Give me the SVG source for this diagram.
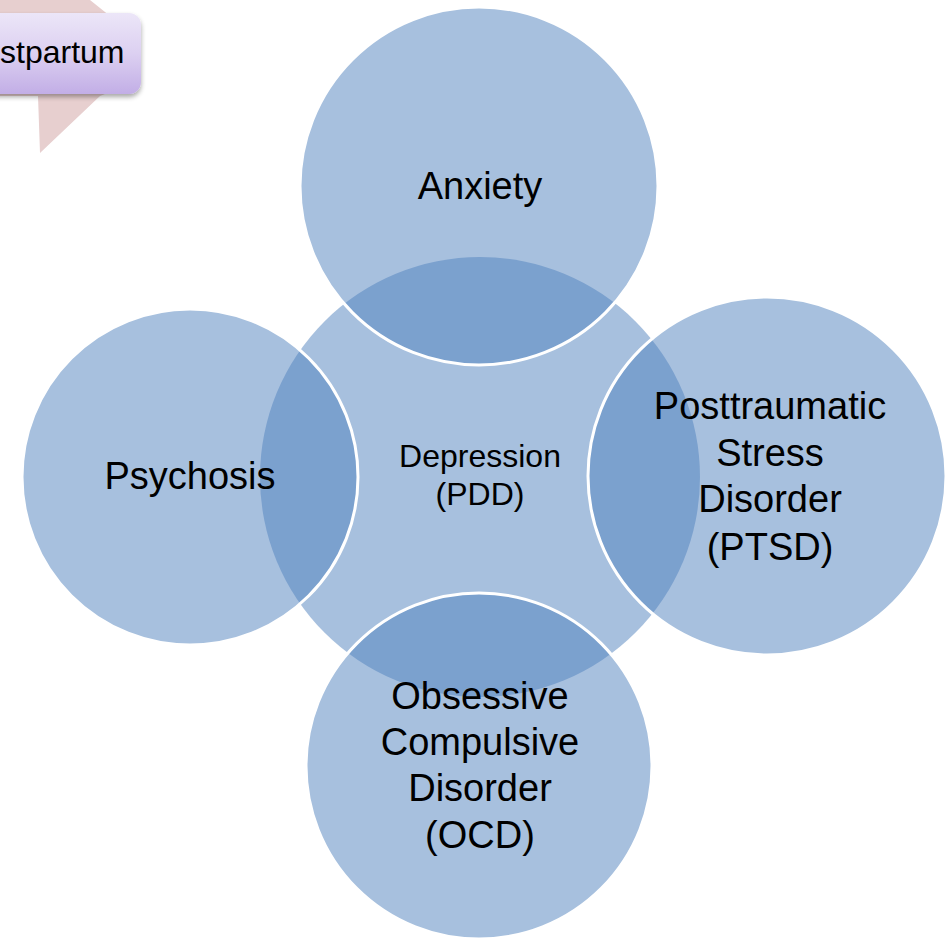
<svg xmlns="http://www.w3.org/2000/svg" width="945" height="939" viewBox="0 0 945 939">
  <defs>
    <linearGradient id="tagFill" x1="0" y1="0" x2="0" y2="1">
      <stop offset="0" stop-color="#ECE6F8"/>
      <stop offset="0.5" stop-color="#DCD0F1"/>
      <stop offset="1" stop-color="#C2AEE6"/>
    </linearGradient>
    <filter id="tagShadow" x="-20%" y="-20%" width="140%" height="160%">
      <feGaussianBlur in="SourceAlpha" stdDeviation="2.5"/>
      <feOffset dx="0" dy="3" result="b"/>
      <feComponentTransfer><feFuncA type="linear" slope="0.35"/></feComponentTransfer>
      <feMerge><feMergeNode/><feMergeNode in="SourceGraphic"/></feMerge>
    </filter>
  </defs>
  <style>
    .hub { fill: #4F81BD; fill-opacity: 0.5; }
    .ring { fill: #4F81BD; fill-opacity: 0.5; stroke: #FFFFFF; stroke-width: 3; }
    .lbl { font-family: "Liberation Sans", Arial, sans-serif; font-size: 38px; fill: #000000; text-anchor: middle; }
    .hubLbl { font-family: "Liberation Sans", Arial, sans-serif; font-size: 32px; fill: #000000; text-anchor: middle; }
    .tagLbl { font-family: "Liberation Sans", Arial, sans-serif; font-size: 32px; fill: #000000; }
  </style>

  <!-- callout tag in the corner -->
  <g id="callout">
    <path d="M -5 0 H 90 L 110 16 V 92 L 100 96 L 40 153 L 38 96 H -5 Z" fill="#E7CFCF"/>
    <rect x="-30" y="13" width="171" height="81" rx="12" fill="url(#tagFill)" filter="url(#tagShadow)"/>
    <text class="tagLbl" x="0" y="63">stpartum</text>
  </g>

  <!-- central circle -->
  <g id="depression">
    <circle class="hub" cx="480" cy="477" r="220"/>
  </g>

  <!-- outer circles -->
  <g id="anxiety">
    <circle class="ring" cx="479" cy="186" r="179"/>
    <text class="lbl" x="480" y="199">Anxiety</text>
  </g>
  <g id="psychosis">
    <circle class="ring" cx="190" cy="477" r="168"/>
    <text class="lbl" x="190" y="489">Psychosis</text>
  </g>
  <g id="ptsd">
    <circle class="ring" cx="767" cy="476" r="179"/>
    <text class="lbl" x="770" y="419">Posttraumatic</text>
    <text class="lbl" x="770" y="466">Stress</text>
    <text class="lbl" x="770" y="512">Disorder</text>
    <text class="lbl" x="770" y="560">(PTSD)</text>
  </g>
  <g id="ocd">
    <circle class="ring" cx="479" cy="766" r="173"/>
    <text class="lbl" x="480" y="709">Obsessive</text>
    <text class="lbl" x="480" y="755">Compulsive</text>
    <text class="lbl" x="480" y="801">Disorder</text>
    <text class="lbl" x="480" y="848">(OCD)</text>
  </g>

  <!-- central label drawn above the overlaps -->
  <g id="depression-label">
    <text class="hubLbl" x="480" y="467">Depression</text>
    <text class="hubLbl" x="480" y="505">(PDD)</text>
  </g>

  <g id="connectors"/>
</svg>
